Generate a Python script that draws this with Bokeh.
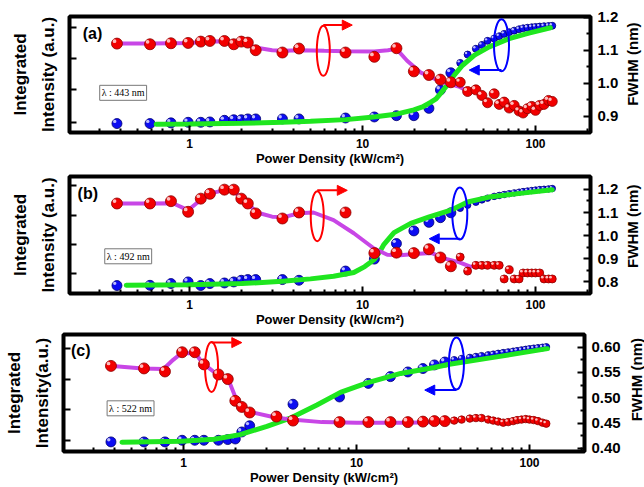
import numpy as np
from bokeh.plotting import figure
from bokeh.layouts import column, row
from bokeh.models import (Range1d, LinearAxis, FixedTicker, PrintfTickFormatter,
                          Label, Arrow, NormalHead)
from bokeh.embed import file_html
from bokeh.resources import INLINE

# ---------------- data ----------------
power = [0.38, 0.59, 0.78, 0.98, 1.16, 1.31, 1.59, 1.80, 1.99, 2.17, 2.41, 3.44, 4.29,
         7.97, 11.7, 15.7, 19.8, 24.2, 28.2, 32.4, 36.7, 40.5, 45.2, 49.0, 52.8, 57.7,
         61.7, 65.9, 70.5, 75.3, 80.4, 84.8, 89.9, 95.1, 100.0, 105.8, 112.0, 119.0, 125.0]

a_fwhm = [1.120, 1.118, 1.121, 1.122, 1.126, 1.128, 1.128, 1.118, 1.126, 1.123,
          1.100, 1.093, 1.105, 1.093, 1.080, 1.106, 1.036, 1.025, 1.011, 1.003,
          1.003, 0.975, 0.980, 0.963, 0.941, 0.968, 0.936, 0.943, 0.925, 0.933,
          0.916, 0.910, 0.923, 0.930, 0.918, 0.933, 0.936, 0.948, 0.945]
a_int = [0.077, 0.077, 0.083, 0.088, 0.088, 0.091, 0.105, 0.110, 0.110, 0.117,
         0.117, 0.117, 0.117, 0.125, 0.134, 0.145, 0.145, 0.208, 0.367, 0.515,
         0.600, 0.672, 0.722, 0.755, 0.790, 0.810, 0.830, 0.850, 0.865, 0.878,
         0.890, 0.898, 0.903, 0.907, 0.910, 0.913, 0.916, 0.918, 0.920]
a_fit_int_x = [0.64, 1.0, 2.0, 3.44, 5.0, 8.0, 11.6, 15.9, 19.8, 22.2, 24.7, 26.6, 28.2,
               30.9, 33.9, 37.9, 44.4, 54.0, 70.5, 91.6, 122.0]
a_fit_int_y = [0.072, 0.073, 0.080, 0.088, 0.097, 0.111, 0.134, 0.160, 0.195, 0.220, 0.260,
               0.290, 0.335, 0.410, 0.495, 0.580, 0.667, 0.738, 0.810, 0.857, 0.903]
a_fit_fwhm_x = [0.38, 0.6, 1.0, 1.3, 1.6, 2.0, 2.4, 3.0, 3.5, 4.3, 6.0, 8.0, 11.7, 14.0,
                15.7, 18.1, 21.6, 25.8, 28.5, 31.4, 36.0, 40.0]
a_fit_fwhm_y = [1.120, 1.120, 1.122, 1.126, 1.127, 1.122, 1.108, 1.100, 1.098, 1.100,
                1.098, 1.097, 1.096, 1.100, 1.104, 1.068, 1.033, 1.015, 1.005, 0.998,
                0.990, 0.978]

b_fwhm = [1.139, 1.139, 1.149, 1.103, 1.160, 1.181, 1.199, 1.199, 1.160, 1.139,
          1.096, 1.074, 1.100, 1.100, 0.924, 0.926, 0.924, 0.941, 0.905, 0.867,
          0.907, 0.846, 0.871, 0.871, 0.871, 0.871, 0.871, 0.812, 0.852, 0.812,
          0.812, 0.838, 0.838, 0.838, 0.838, 0.838, 0.812, 0.812, 0.812]
b_int = [0.068, 0.070, 0.085, 0.099, 0.068, 0.085, 0.090, 0.099, 0.113, 0.119,
         0.119, 0.119, 0.113, 0.192, 0.294, 0.427, 0.535, 0.608, 0.648, 0.690,
         0.728, 0.755, 0.780, 0.800, 0.815, 0.830, 0.838, 0.846, 0.853, 0.860,
         0.866, 0.871, 0.876, 0.880, 0.884, 0.888, 0.891, 0.894, 0.897]
b_fit_int_x = [0.43, 1.0, 2.0, 3.44, 5.0, 6.8, 8.9, 10.3, 11.7, 12.6, 13.3, 15.2, 19.0,
               24.3, 32.4, 40.5, 54.0, 84.0, 125.0]
b_fit_int_y = [0.070, 0.074, 0.085, 0.104, 0.125, 0.147, 0.180, 0.230, 0.290, 0.360,
               0.420, 0.520, 0.599, 0.655, 0.712, 0.782, 0.824, 0.858, 0.887]
b_fit_fwhm_x = [0.38, 0.6, 0.8, 0.98, 1.16, 1.35, 1.6, 1.8, 2.0, 2.2, 2.45, 3.0, 3.5,
                4.3, 5.2, 6.8, 8.9, 11.6, 13.9, 16.5, 20.0, 25.0, 30.0, 36.0, 42.0]
b_fit_fwhm_y = [1.139, 1.139, 1.140, 1.110, 1.155, 1.185, 1.197, 1.192, 1.162, 1.135,
                1.100, 1.082, 1.080, 1.097, 1.100, 1.067, 1.010, 0.945, 0.917, 0.915,
                0.920, 0.925, 0.900, 0.885, 0.865]

c_fwhm = [0.563, 0.558, 0.552, 0.590, 0.590, 0.566, 0.546, 0.537, 0.494, 0.482,
          0.471, 0.463, 0.455, 0.452, 0.452, 0.452, 0.452, 0.453, 0.454, 0.454,
          0.455, 0.457, 0.459, 0.460, 0.460, 0.457, 0.455, 0.453, 0.451, 0.452,
          0.454, 0.456, 0.457, 0.458, 0.457, 0.456, 0.454, 0.451, 0.449]
c_int = [0.082, 0.082, 0.082, 0.096, 0.096, 0.096, 0.096, 0.102, 0.107, 0.167,
         0.220, 0.300, 0.404, 0.466, 0.582, 0.640, 0.680, 0.709, 0.740, 0.765,
         0.782, 0.792, 0.802, 0.810, 0.817, 0.824, 0.830, 0.837, 0.843, 0.849,
         0.855, 0.860, 0.866, 0.871, 0.876, 0.881, 0.885, 0.889, 0.893]
c_fit_int_x = [0.44, 0.97, 1.5, 2.12, 3.03, 4.13, 5.9, 8.07, 11.5, 18.0, 28.1, 34.4,
               59.3, 127.0]
c_fit_int_y = [0.079, 0.087, 0.105, 0.144, 0.215, 0.285, 0.398, 0.505, 0.587, 0.667,
               0.718, 0.746, 0.800, 0.879]
c_fit_fwhm_x = [0.388, 0.58, 0.765, 0.87, 0.97, 1.17, 1.29, 1.58, 1.85, 2.02, 2.36,
                3.38, 4.2, 6.3, 10.0, 20.0, 30.0]
c_fit_fwhm_y = [0.563, 0.558, 0.557, 0.575, 0.588, 0.588, 0.568, 0.545, 0.529, 0.496,
                0.473, 0.461, 0.457, 0.452, 0.451, 0.451, 0.452]

x_tick_values = [1, 10, 100]
x_minor_values = [0.3, 0.4, 0.5, 0.6, 0.7, 0.8, 0.9, 2, 3, 4, 5, 6, 7, 8, 9,
                  20, 30, 40, 50, 60, 70, 80, 90, 200]

# ---------------- styling ----------------
FONT = "Liberation Sans"
RED, RED_EDGE, RED_HL = "#f20000", "#8c0000", "#ffd0d0"
BLUE, BLUE_EDGE, BLUE_HL = "#0c0cf2", "#00006e", "#d0d0ff"
GREEN = "#1fe61f"
MAGENTA = "#c846e6"
X_RANGE = (0.202, 208)
MAIN_W = 624
SIDE_W = 20

panels = [
    dict(tag="(a)", inten=a_int, fwhm=a_fwhm,
         gx=a_fit_int_x, gy=a_fit_int_y, mx=a_fit_fwhm_x, my=a_fit_fwhm_y,
         frange=(0.851, 1.202), fticks=[0.9, 1.0, 1.1, 1.2], fminor=[0.95, 1.05, 1.15],
         ffmt="%.1f", lticks=[0.085, 0.368, 0.641, 0.906],
         ylabel="Integrated\nIntensity (a.u.)", lam="λ : 443 nm",
         lam_xy=(0.302, 0.342), tag_xy=(0.241, 0.93), flab_xy=(0.4, 0.589),
         red_ell=(5.93, 1.098, 1.176, 8.72), blue_ell=(63.6, 0.752, 0.538, 41.4),
         sizes=(11, 10, 10, 7), h=168, bl=69, br=34, bt=16, bb=35),
    dict(tag="(b)", inten=b_int, fwhm=b_fwhm,
         gx=b_fit_int_x, gy=b_fit_int_y, mx=b_fit_fwhm_x, my=b_fit_fwhm_y,
         frange=(0.749, 1.256), fticks=[0.8, 0.9, 1.0, 1.1, 1.2],
         fminor=[0.85, 0.95, 1.05, 1.15], ffmt="%.1f",
         lticks=[0.175, 0.415, 0.669, 0.924],
         ylabel="Integrated\nIntensity (a.u.)", lam="λ : 492 nm",
         lam_xy=(0.323, 0.318), tag_xy=(0.225, 0.93), flab_xy=(0.4, 0.575),
         red_ell=(5.47, 1.084, 1.196, 8.16), blue_ell=(36.5, 0.684, 0.468, 24.3),
         sizes=(11, 8, 10, 6.5), h=161, bl=69, br=34, bt=8, bb=35),
    dict(tag="(c)", inten=c_int, fwhm=c_fwhm,
         gx=c_fit_int_x, gy=c_fit_int_y, mx=c_fit_fwhm_x, my=c_fit_fwhm_y,
         frange=(0.394, 0.625), fticks=[0.40, 0.45, 0.50, 0.55, 0.60],
         fminor=[0.425, 0.475, 0.525, 0.575], ffmt="%.2f",
         lticks=[0.096, 0.356, 0.616, 0.879],
         ylabel="Integrated\nIntensity(a.u.)", lam="λ : 522 nm",
         lam_xy=(0.361, 0.369), tag_xy=(0.223, 0.94), flab_xy=(0.58, 0.614),
         red_ell=(1.45, 0.561, 0.609, 2.17), blue_ell=(37.8, 0.752, 0.525, 24.8),
         sizes=(11, 7.5, 10, 7), h=158, bl=63, br=40, bt=5, bb=35),
]


def style_axis(ax):
    ax.axis_line_color = None
    ax.major_tick_in = 7
    ax.major_tick_out = 0
    ax.minor_tick_in = 4
    ax.minor_tick_out = 0
    ax.major_tick_line_width = 2
    ax.minor_tick_line_width = 2
    ax.major_label_text_font = FONT
    ax.major_label_text_font_style = "bold"
    ax.major_label_text_color = "black"
    ax.axis_label_text_font = FONT
    ax.axis_label_text_font_style = "bold"
    ax.axis_label_text_color = "black"


def balls(p, x, y, sizes, fill, edge, hl, rname, units_per_px):
    x = np.asarray(x, float)
    y = np.asarray(y, float)
    s = np.asarray(sizes, float)
    p.scatter(x, y, size=s, marker="circle", fill_color=fill, line_color=edge,
              line_width=0.8, y_range_name=rname)
    off = 0.22 * s
    hx = x * 10 ** (-off / 173.0)
    hy = y + off * units_per_px
    p.scatter(hx, hy, size=0.34 * s, marker="circle", fill_color=hl, line_color=None,
              fill_alpha=0.9, y_range_name=rname)


rows = []
for d in panels:
    p = figure(width=MAIN_W, height=d["h"], x_axis_type="log",
               x_range=Range1d(*X_RANGE), y_range=Range1d(0, 1),
               output_backend="svg", toolbar_location=None,
               min_border_left=d["bl"], min_border_right=d["br"],
               min_border_top=d["bt"], min_border_bottom=d["bb"])
    p.extra_y_ranges = {"fwhm": Range1d(*d["frange"])}
    p.grid.visible = False
    p.outline_line_color = "black"
    p.outline_line_width = 4
    p.background_fill_color = "white"
    p.border_fill_color = "white"

    xa = p.xaxis[0]
    style_axis(xa)
    xa.ticker = FixedTicker(ticks=x_tick_values, minor_ticks=x_minor_values)
    xa.formatter = PrintfTickFormatter(format="%d")
    xa.major_label_text_font_size = "12px"
    xa.major_label_standoff = 6
    xa.axis_label = "Power Density (kW/cm²)"
    xa.axis_label_text_font_size = "13px"
    xa.axis_label_standoff = 0

    ya = p.yaxis[0]
    style_axis(ya)
    # unlabeled tick marks only (drawn as minor ticks so no tick labels exist)
    ya.ticker = FixedTicker(ticks=[], minor_ticks=d["lticks"])
    ya.minor_tick_in = 7
    ya.major_label_standoff = 0
    ya.axis_label = d["ylabel"]
    ya.axis_label_text_font_size = "17px"
    ya.axis_label_text_line_height = 1.45
    ya.axis_label_standoff = 12

    ra = LinearAxis(y_range_name="fwhm",
                    ticker=FixedTicker(ticks=d["fticks"], minor_ticks=d["fminor"]),
                    formatter=PrintfTickFormatter(format=d["ffmt"]))
    style_axis(ra)
    ra.major_label_text_font_size = "15px"
    ra.major_label_standoff = 7
    p.add_layout(ra, "right")

    frame_h = d["h"] - d["bt"] - d["bb"]
    span_f = d["frange"][1] - d["frange"][0]
    big_r, small_r, big_b, small_b = d["sizes"]
    size_r = [big_r if xv < 34 else small_r for xv in power]
    size_b = [big_b if xv < 34 else small_b for xv in power]

    # blue (integrated intensity) spheres, then green fit
    balls(p, power, d["inten"], size_b, BLUE, BLUE_EDGE, BLUE_HL, "default", 1.0 / frame_h)
    p.line(d["gx"], d["gy"], line_color=GREEN, line_width=5, line_cap="round")
    # magenta fit, then red (FWHM) spheres
    p.line(d["mx"], d["my"], line_color=MAGENTA, line_width=4, line_cap="round",
           y_range_name="fwhm")
    balls(p, power, d["fwhm"], size_r, RED, RED_EDGE, RED_HL, "fwhm", span_f / frame_h)

    # red ellipse + arrow pointing right (to FWHM axis)
    ex, ey, ay, axe = d["red_ell"]
    p.ellipse(x=[ex], y=[ey], width=13, height=50, width_units="screen",
              height_units="screen", fill_color=None, line_color="red", line_width=2,
              y_range_name="fwhm")
    p.add_layout(Arrow(x_start=ex, y_start=ay, x_end=axe, y_end=ay, line_color="red",
                       line_width=2, y_range_name="fwhm",
                       end=NormalHead(size=10, fill_color="red", line_color="red")))
    # blue ellipse + arrow pointing left (to intensity axis)
    bx, by, bay, bxe = d["blue_ell"]
    p.ellipse(x=[bx], y=[by], width=15, height=52, width_units="screen",
              height_units="screen", fill_color=None, line_color="blue", line_width=2)
    p.add_layout(Arrow(x_start=bx, y_start=bay, x_end=bxe, y_end=bay, line_color="blue",
                       line_width=2,
                       end=NormalHead(size=10, fill_color="blue", line_color="blue")))

    p.add_layout(Label(x=d["tag_xy"][0], y=d["tag_xy"][1], text=d["tag"],
                       text_font=FONT, text_font_style="bold", text_font_size="16px",
                       text_color="black", text_baseline="top", text_align="left"))
    p.add_layout(Label(x=d["lam_xy"][0], y=d["lam_xy"][1], text=d["lam"],
                       text_font="Liberation Serif", text_font_size="10px",
                       text_color="black", text_baseline="middle", text_align="left",
                       border_line_color="#777777", border_line_width=1,
                       background_fill_color="white", padding=2))

    # narrow side strip carrying the right-hand axis title (reads bottom-to-top)
    s = figure(width=SIDE_W, height=d["h"], x_range=Range1d(0, 1), y_range=Range1d(0, 1),
               output_backend="svg", toolbar_location=None,
               x_axis_location=None, y_axis_location=None,
               min_border_left=0, min_border_right=0, min_border_top=0,
               min_border_bottom=0)
    s.grid.visible = False
    s.outline_line_color = None
    s.background_fill_color = "white"
    s.border_fill_color = "white"
    s.add_layout(Label(x=d["flab_xy"][0], y=d["flab_xy"][1], text="FWHM (nm)",
                       angle=np.pi / 2, text_font=FONT, text_font_style="bold",
                       text_font_size="15px", text_color="black", text_align="center",
                       text_baseline="middle"))
    rows.append(row(p, s, spacing=0))

layout = column(*rows, spacing=0)
open("out.html", "w").write(file_html(layout, INLINE))
